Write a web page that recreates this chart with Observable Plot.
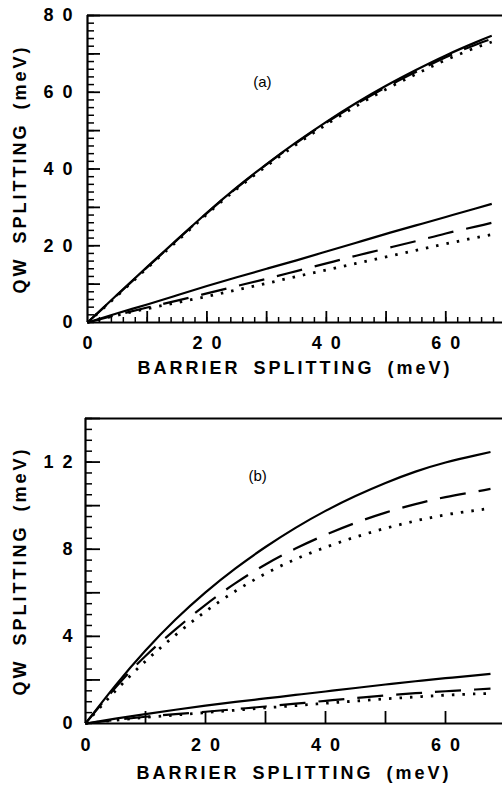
<!DOCTYPE html>
<html>
<head>
<meta charset="utf-8">
<script src="https://cdn.jsdelivr.net/npm/d3@7"></script>
<script src="https://cdn.jsdelivr.net/npm/@observablehq/plot@0.6"></script>
<style>
  html, body { margin: 0; padding: 0; background: #fff; }
  #wrap { position: relative; width: 502px; height: 785px; overflow: hidden; background: #fff; }
  #pa { position: absolute; left: 0; top: 0; }
  #pb { position: absolute; left: 0; top: 390px; }
</style>
</head>
<body>
<div id="wrap"><div id="pa"></div><div id="pb"></div></div>
<script>
// ---------- data ----------
// Panel (a)
const barrierA = [0, 5, 10, 15, 20, 25, 30, 35, 40, 45, 50, 55, 60, 65, 67.7];
const upperSolidA  = [0, 7.3, 14.5, 21.6, 28.6, 35.2, 41.3, 47.0, 52.3, 57.2, 61.7, 65.8, 69.6, 73.0, 74.7];
const upperDashedA = [0, 7.2, 14.4, 21.5, 28.5, 35.1, 41.2, 46.8, 52.1, 56.9, 61.3, 65.3, 69.1, 72.4, 73.9];
const upperDottedA = [0, 7.0, 14.2, 21.2, 28.2, 34.8, 40.8, 46.4, 51.6, 56.4, 60.8, 64.7, 68.4, 71.6, 73.1];
const lowerSolidA  = [0, 2.4, 4.7, 7.1, 9.5, 11.8, 14.0, 16.2, 18.5, 20.8, 23.1, 25.3, 27.5, 29.7, 30.9];
const lowerDashedA = [0, 2.0, 3.9, 5.7, 7.6, 9.5, 11.4, 13.4, 15.4, 17.4, 19.3, 21.2, 23.2, 25.0, 26.0];
const lowerDottedA = [0, 1.9, 3.6, 5.2, 6.8, 8.5, 10.2, 12.0, 13.7, 15.4, 17.1, 18.8, 20.5, 22.1, 22.9];
// Panel (b)
const barrierB = [0, 5, 10, 15, 20, 25, 30, 35, 40, 45, 50, 55, 60, 65, 67.5];
const upperSolidB  = [0, 1.75, 3.35, 4.77, 6.02, 7.12, 8.1, 8.98, 9.76, 10.44, 11.04, 11.56, 11.98, 12.31, 12.46];
const upperDashedB = [0, 1.65, 3.1, 4.32, 5.45, 6.44, 7.3, 8.03, 8.66, 9.21, 9.68, 10.07, 10.39, 10.64, 10.77];
const upperDottedB = [0, 1.5, 2.86, 4.06, 5.14, 6.08, 6.88, 7.54, 8.09, 8.56, 8.96, 9.3, 9.58, 9.78, 9.88];
const lowerSolidB  = [0, 0.22, 0.43, 0.63, 0.82, 0.99, 1.15, 1.31, 1.47, 1.63, 1.79, 1.94, 2.08, 2.21, 2.28];
const lowerDashedB = [0, 0.16, 0.31, 0.43, 0.54, 0.66, 0.78, 0.91, 1.04, 1.17, 1.29, 1.39, 1.48, 1.56, 1.6];
const lowerDottedB = [0, 0.15, 0.28, 0.39, 0.5, 0.61, 0.72, 0.82, 0.93, 1.03, 1.13, 1.22, 1.3, 1.36, 1.38];

// tick labels
const xTickLabels = [0, 20, 40, 60];
const yTickLabelsA = [0, 20, 40, 60, 80];
const yTickLabelsB = [0, 4, 8, 12];
const xTitle = "BARRIER SPLITTING (meV)";
const yTitle = "QW SPLITTING (meV)";
const panelA = [{x: 29.3, y: 62.5, label: "(a)"}];
const panelB = [{x: 28.7, y: 11.36, label: "(b)"}];

// ---------- helpers ----------
const FONT = "'Liberation Sans', Arial, Helvetica, sans-serif";
const spaced = d => String(d).split("").join("\u2002");
const pts = (xs, ys) => xs.map((x, i) => ({x, y: ys[i]}));
const styles = {
  solid:  {strokeWidth: 2.2},
  dashed: {strokeWidth: 2.2, strokeDasharray: "26,13"},
  dotted: {strokeWidth: 2.8, strokeDasharray: "2.5,8"}
};
const curve = (xs, ys, kind) => Plot.line(pts(xs, ys), {
  x: "x", y: "y", stroke: "black", curve: "natural", strokeLinecap: "butt", ...styles[kind]
});
const W = 502;

function panel({xs, series, yMax, yMinor, yMajor, yMinorLen, yMajorLen, yLabels, yPad,
                xMinor, xMajor, xMinorLen, xMajorLen, xPad, marginLeft, marginTop, marginBottom,
                height, tag, xTitleDy, yTitleDx}) {
  const fw = W - marginLeft;                  // frame width in px
  const fh = height - marginTop - marginBottom; // frame height in px
  const svg = Plot.plot({
    width: W, height, marginLeft, marginRight: 0, marginTop, marginBottom,
    x: {domain: [0, 69.5], label: null},
    y: {domain: [0, yMax], label: null},
    style: {background: "white", color: "black", fontFamily: FONT, overflow: "visible"},
    marks: [
      // inward ticks (drawn as short rules from the frame edge)
      xMinor ? Plot.ruleX(xMinor, {insetTop: fh - xMinorLen, strokeWidth: 1.5}) : null,
      Plot.ruleX(xMajor, {insetTop: fh - xMajorLen, strokeWidth: 1.8}),
      Plot.ruleY(yMinor, {insetRight: fw - yMinorLen, strokeWidth: 1.5}),
      Plot.ruleY(yMajor, {insetRight: fw - yMajorLen, strokeWidth: 1.8}),
      // tick labels
      Plot.axisX(xTickLabels, {tickSize: 0, tickPadding: xPad, tickFormat: spaced, label: null, fontSize: 18, fontWeight: "bold"}),
      Plot.axisY(yLabels, {tickSize: 0, tickPadding: yPad, tickFormat: spaced, label: null, fontSize: 18, fontWeight: "bold"}),
      // frame (top, bottom, left)
      Plot.ruleY([0, yMax], {strokeWidth: 2.2}),
      Plot.ruleX([0], {strokeWidth: 2.2}),
      // curves
      ...series.map(([ys, kind]) => curve(xs, ys, kind)),
      // panel tag
      Plot.text(tag, {x: "x", y: "y", text: "label", fontSize: 15, fontFamily: FONT}),
      // axis titles
      Plot.text([xTitle], {frameAnchor: "bottom", dy: xTitleDy, textAnchor: "middle", lineAnchor: "middle", fontSize: 18, fontWeight: "bold"}),
      Plot.text([yTitle], {frameAnchor: "left", dx: yTitleDx, rotate: -90, textAnchor: "middle", lineAnchor: "middle", fontSize: 18, fontWeight: "bold"})
    ]
  });
  d3.select(svg).selectAll("text")
    .filter(function () { return this.textContent === xTitle || this.textContent === yTitle; })
    .style("letter-spacing", "3px").style("word-spacing", "5px");
  return svg;
}

document.getElementById("pa").append(panel({
  xs: barrierA,
  series: [[upperSolidA, "solid"], [upperDashedA, "dashed"], [upperDottedA, "dotted"],
           [lowerSolidA, "solid"], [lowerDashedA, "dashed"], [lowerDottedA, "dotted"]],
  yMax: 80, yMinor: d3.range(0, 81, 2), yMajor: d3.range(10, 81, 10), yMinorLen: 7, yMajorLen: 13,
  yLabels: yTickLabelsA, yPad: 15,
  xMinor: d3.range(2, 70, 2), xMajor: d3.range(10, 70, 10), xMinorLen: 5, xMajorLen: 11, xPad: 14,
  marginLeft: 87, marginTop: 15, marginBottom: 68, height: 390,
  tag: panelA, xTitleDy: 46, yTitleDx: -67
}));

document.getElementById("pb").append(panel({
  xs: barrierB,
  series: [[upperSolidB, "solid"], [upperDashedB, "dashed"], [upperDottedB, "dotted"],
           [lowerSolidB, "solid"], [lowerDashedB, "dashed"], [lowerDottedB, "dotted"]],
  yMax: 14, yMinor: d3.range(0, 14.01, 0.5), yMajor: d3.range(2, 14.01, 2), yMinorLen: 7, yMajorLen: 15,
  yLabels: yTickLabelsB, yPad: 13,
  xMinor: null, xMajor: d3.range(10, 70, 10), xMinorLen: 0, xMajorLen: 12, xPad: 15,
  marginLeft: 85, marginTop: 28, marginBottom: 62, height: 395,
  tag: panelB, xTitleDy: 50, yTitleDx: -65
}));
</script>
</body>
</html>
